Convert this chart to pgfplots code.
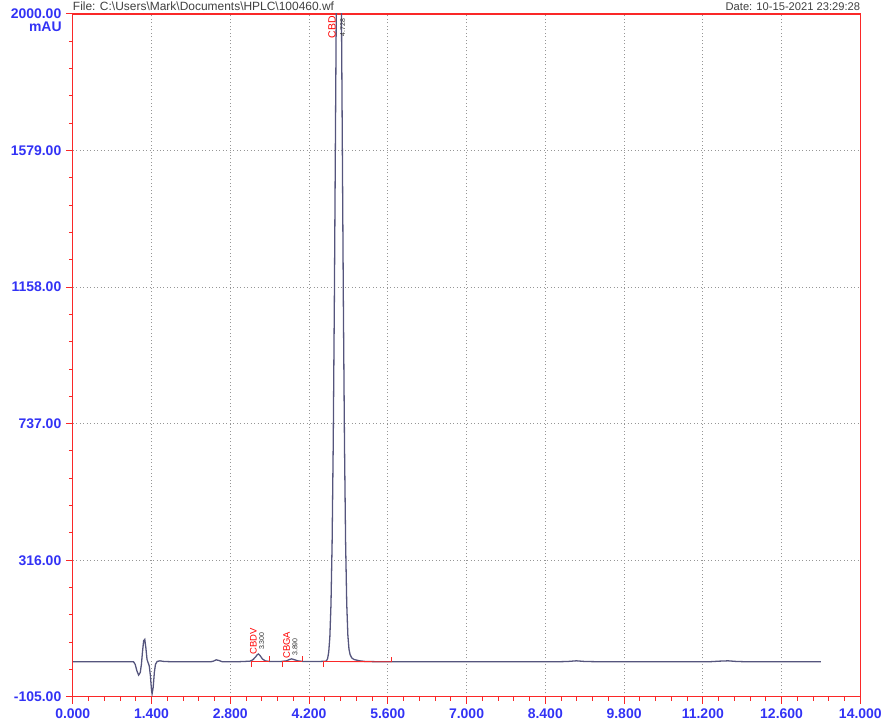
\documentclass[border=0pt]{standalone}
\usepackage{fontspec}
\setmainfont{Liberation Sans}
\usepackage{pgfplots}
\pgfplotsset{compat=1.18}
\definecolor{axred}{RGB}{250,40,40}
\definecolor{tickblue}{RGB}{50,50,245}
\definecolor{trace}{RGB}{85,85,125}
\definecolor{gridgray}{RGB}{150,150,150}
\begin{document}
\begin{tikzpicture}
\begin{axis}[
  at={(0,0)}, anchor=south west,
  scale only axis,
  width=790pt, height=685pt,
  xmin=0, xmax=14, ymin=-105, ymax=2000,
  xtick={0,1.4,...,14.1},
  ytick={-105,316,737,1158,1579,2000},
  minor x tick num=4, minor y tick num=4,
  xtick pos=bottom, ytick pos=left,
  tick align=outside,
  major tick length=7pt, minor tick length=4pt,
  every tick/.style={axred, line width=1pt},
  axis line style={axred, line width=1.3pt},
  grid=major,
  major grid style={gridgray, line width=0.7pt, dash pattern=on 1pt off 2.5pt},
  /pgf/number format/assume math mode=true,
  ticklabel style={font=\fontsize{14}{14}\selectfont\bfseries, text=tickblue},
  xticklabel style={yshift=-1pt, /pgf/number format/fixed, /pgf/number format/fixed zerofill, /pgf/number format/precision=3, /pgf/number format/1000 sep={}},
  yticklabel style={xshift=-1pt, /pgf/number format/fixed, /pgf/number format/fixed zerofill, /pgf/number format/precision=2, /pgf/number format/1000 sep={}},
  clip=true,
]
% chromatogram trace
\addplot[trace, line width=1.3pt, mark=none] coordinates {
  (0,3) (0.5,3) (1.0,3) (1.08,3) (1.11,-5) (1.14,-25) (1.17,-38) (1.20,-30)
  (1.22,-5) (1.24,35) (1.26,68) (1.28,72) (1.30,45) (1.32,10) (1.34,0)
  (1.36,-10) (1.38,-40) (1.40,-85) (1.41,-96) (1.43,-75) (1.45,-30) (1.47,-5)
  (1.50,4) (1.55,6) (1.62,4) (1.8,3) (2.2,3) (2.45,3) (2.50,5) (2.55,9)
  (2.60,7) (2.66,3) (2.9,3) (3.05,4) (3.15,5) (3.20,9) (3.25,18) (3.28,25)
  (3.30,27) (3.33,22) (3.37,12) (3.42,6) (3.50,4) (3.7,4) (3.80,6) (3.85,10)
  (3.89,12) (3.93,10) (4.0,6) (4.1,4) (4.4,4) (4.49,5)
  (4.51,6) (4.53,13) (4.55,33) (4.57,80) (4.59,180) (4.61,368) (4.63,676)
  (4.65,1113) (4.67,1641) (4.69,2166) (4.71,2557) (4.73,2703) (4.75,2557)
  (4.77,2166) (4.79,1641) (4.81,1113) (4.83,676) (4.85,370) (4.87,182)
  (4.89,85) (4.91,42) (4.93,25) (4.96,15) (5.0,10) (5.1,6) (5.2,4)
  (5.5,3) (6,3) (7,3) (8,3)
  (8.6,3) (8.8,4) (8.95,6) (9.1,4) (9.4,3) (11.3,3) (11.5,5) (11.65,6)
  (11.8,4) (12.0,3) (13.3,3)
};
% integration baselines
\addplot[axred, line width=0.9pt] coordinates {(3.17,4) (3.49,4)};
\addplot[axred, line width=0.9pt] coordinates {(3.72,4) (4.08,4)};
\addplot[axred, line width=0.9pt] coordinates {(4.45,4) (5.67,3)};
% peak start / end marks
\addplot[axred, line width=0.9pt] coordinates {(3.17,4) (3.17,-12)};
\addplot[axred, line width=0.9pt] coordinates {(3.49,4) (3.49,20)};
\addplot[axred, line width=0.9pt] coordinates {(3.72,4) (3.72,-12)};
\addplot[axred, line width=0.9pt] coordinates {(4.08,4) (4.08,20)};
\addplot[axred, line width=0.9pt] coordinates {(4.45,4) (4.45,-12)};
\addplot[axred, line width=0.9pt] coordinates {(5.67,3) (5.67,19)};
% peak labels
\node[rotate=90, anchor=west, text=red, inner sep=0pt, font=\fontsize{9.5}{9.5}\selectfont] at (axis cs:3.21,25) {CBDV};
\node[rotate=90, anchor=west, text=black!80, inner sep=0pt, font=\fontsize{7}{7}\selectfont] at (axis cs:3.36,39) {3.300};
\node[rotate=90, anchor=west, text=red, inner sep=0pt, font=\fontsize{9.5}{9.5}\selectfont] at (axis cs:3.80,12) {CBGA};
\node[rotate=90, anchor=west, text=black!80, inner sep=0pt, font=\fontsize{7}{7}\selectfont] at (axis cs:3.95,21) {3.890};
\node[rotate=90, anchor=west, text=red, inner sep=0pt, font=\fontsize{10.5}{10.5}\selectfont] at (axis cs:4.61,1924) {CBD};
\node[rotate=90, anchor=west, text=black!80, inner sep=0pt, font=\fontsize{7}{7}\selectfont] at (axis cs:4.80,1930) {4.728};
\end{axis}
% header and unit
\node[anchor=south west, inner sep=0pt, text=black!75, font=\fontsize{12}{12}\selectfont]
  at ([yshift=3pt]current axis.north west) {File: C:\textbackslash Users\textbackslash Mark\textbackslash Documents\textbackslash HPLC\textbackslash 100460.wf};
\node[anchor=south east, inner sep=0pt, text=black!75, font=\fontsize{11.2}{11.2}\selectfont]
  at ([yshift=3pt]current axis.north east) {Date: 10-15-2021 23:29:28};
\node[anchor=north east, inner sep=0pt, text=tickblue, font=\fontsize{14}{14}\selectfont\bfseries]
  at ([xshift=-11pt,yshift=-8pt]current axis.north west) {mAU};
\path ([shift={(-73pt,-25pt)}]current axis.south west) rectangle ([shift={(22pt,14pt)}]current axis.north east);
\end{tikzpicture}
\end{document}
